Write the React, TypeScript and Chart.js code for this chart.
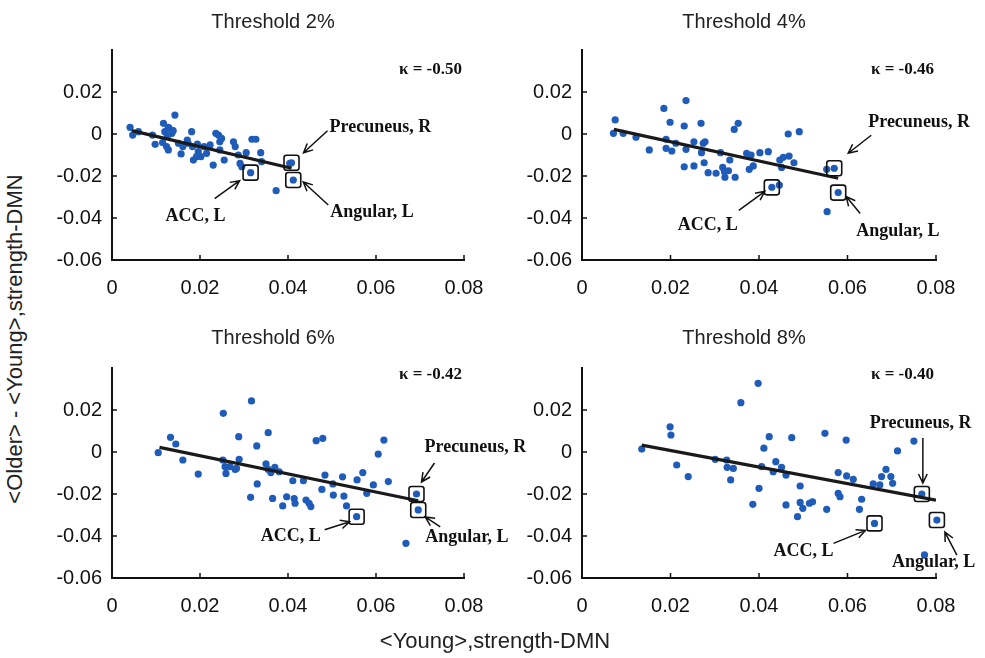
import React, { useEffect, useRef } from 'react';
import { Chart, registerables } from 'chart.js';

Chart.register(...registerables);

// ---------- data ----------
const X_TICKS = [0, 0.02, 0.04, 0.06, 0.08];
const Y_TICKS = [-0.06, -0.04, -0.02, 0, 0.02];
const PANEL_TITLES = ['Threshold 2%', 'Threshold 4%', 'Threshold 6%', 'Threshold 8%'];
const KAPPA_LABELS = ['κ = -0.50', 'κ = -0.46', 'κ = -0.42', 'κ = -0.40'];
const X_TITLE = '<Young>,strength-DMN';
const Y_TITLE = '<Older> - <Young>,strength-DMN';
const ROI_NAMES = ['Precuneus, R', 'ACC, L', 'Angular, L'];

const T2_X = [0.0041, 0.0047, 0.0060, 0.0092, 0.0098, 0.0117, 0.0120, 0.0126, 0.0130, 0.0136, 0.0143, 0.0139, 0.0115, 0.0124, 0.0128, 0.0151, 0.0157, 0.0161, 0.0171, 0.0181, 0.0183, 0.0185, 0.0194, 0.0196, 0.0202, 0.0209, 0.0215, 0.0223, 0.0230, 0.0236, 0.0242, 0.0245, 0.0245, 0.0255, 0.0276, 0.0280, 0.0287, 0.0291, 0.0295, 0.0305, 0.0318, 0.0327, 0.0338, 0.0340, 0.0373, 0.0128, 0.0173, 0.0249, 0.0192, 0.0404];
const T2_Y = [0.0032, -0.0005, 0.0011, -0.0005, -0.0049, 0.0051, 0.0011, -0.0010, 0.0027, 0.0003, 0.0090, 0.0016, -0.0041, -0.0060, -0.0076, -0.0044, -0.0095, -0.0060, -0.0029, 0.0011, -0.0060, -0.0124, -0.0048, -0.0084, -0.0108, -0.0060, -0.0092, -0.0052, -0.0148, 0.0003, -0.0005, -0.0037, -0.0076, -0.0124, -0.0037, -0.0060, -0.0100, -0.0140, -0.0156, -0.0089, -0.0025, -0.0025, -0.0089, -0.0132, -0.0270, 0.0032, -0.0044, -0.0021, -0.0108, -0.0140];
const T2_ROI_X = [0.0408, 0.0315, 0.0412];
const T2_ROI_Y = [-0.0137, -0.0184, -0.0219];
const T2_FIT_X = [0.0045, 0.0408];
const T2_FIT_Y = [0.0016, -0.0163];

const T4_X = [0.0075, 0.0071, 0.0093, 0.0122, 0.0152, 0.0185, 0.0190, 0.0190, 0.0199, 0.0203, 0.0212, 0.0231, 0.0235, 0.0235, 0.0231, 0.0253, 0.0253, 0.0269, 0.0274, 0.0270, 0.0278, 0.0276, 0.0285, 0.0303, 0.0313, 0.0318, 0.0322, 0.0323, 0.0331, 0.0334, 0.0346, 0.0344, 0.0353, 0.0372, 0.0378, 0.0387, 0.0382, 0.0402, 0.0421, 0.0446, 0.0447, 0.0455, 0.0451, 0.0466, 0.0468, 0.0479, 0.0491, 0.0553, 0.0554];
const T4_Y = [0.0067, 0.0003, 0.0003, -0.0016, -0.0076, 0.0122, -0.0025, -0.0068, 0.0056, -0.0081, -0.0044, 0.0038, 0.0159, -0.0073, -0.0156, -0.0152, -0.0037, 0.0051, -0.0044, -0.0089, -0.0037, -0.0137, -0.0184, -0.0187, -0.0089, -0.0159, -0.0180, -0.0206, -0.0175, -0.0124, -0.0206, 0.0022, 0.0051, -0.0092, -0.0168, -0.0152, -0.0100, -0.0089, -0.0084, -0.0243, -0.0124, -0.0111, -0.0159, 0.0000, -0.0105, -0.0137, 0.0011, -0.0168, -0.0370];
const T4_ROI_X = [0.0570, 0.0429, 0.0579];
const T4_ROI_Y = [-0.0163, -0.0254, -0.0279];
const T4_FIT_X = [0.0072, 0.0579];
const T4_FIT_Y = [0.0022, -0.0211];

const T6_X = [0.0105, 0.0133, 0.0145, 0.0161, 0.0196, 0.0253, 0.0317, 0.0252, 0.0257, 0.0259, 0.0268, 0.0280, 0.0283, 0.0289, 0.0288, 0.0315, 0.0329, 0.0330, 0.0350, 0.0355, 0.0355, 0.0361, 0.0365, 0.0370, 0.0380, 0.0388, 0.0397, 0.0411, 0.0414, 0.0416, 0.0435, 0.0441, 0.0448, 0.0452, 0.0464, 0.0479, 0.0477, 0.0484, 0.0502, 0.0503, 0.0524, 0.0527, 0.0533, 0.0557, 0.0570, 0.0579, 0.0594, 0.0605, 0.0618, 0.0628, 0.0668];
const T6_Y = [-0.0003, 0.0070, 0.0038, -0.0038, -0.0105, 0.0184, 0.0243, -0.0038, -0.0070, -0.0102, -0.0070, -0.0083, -0.0078, -0.0035, 0.0073, -0.0216, 0.0029, -0.0152, -0.0057, 0.0092, -0.0083, -0.0098, -0.0221, -0.0073, -0.0094, -0.0257, -0.0213, -0.0137, -0.0222, -0.0244, -0.0137, -0.0229, -0.0244, -0.0260, 0.0054, 0.0065, -0.0178, -0.0110, -0.0152, -0.0205, -0.0118, -0.0210, -0.0257, -0.0133, -0.0098, -0.0197, -0.0157, -0.0010, 0.0057, -0.0141, -0.0435];
const T6_ROI_X = [0.0692, 0.0556, 0.0696];
const T6_ROI_Y = [-0.0200, -0.0308, -0.0276];
const T6_FIT_X = [0.0108, 0.0696];
const T6_FIT_Y = [0.0022, -0.0232];

const T8_X = [0.0135, 0.0199, 0.0201, 0.0214, 0.0240, 0.0301, 0.0327, 0.0328, 0.0336, 0.0342, 0.0359, 0.0398, 0.0386, 0.0400, 0.0411, 0.0406, 0.0423, 0.0432, 0.0438, 0.0451, 0.0461, 0.0461, 0.0474, 0.0487, 0.0493, 0.0493, 0.0499, 0.0514, 0.0521, 0.0549, 0.0553, 0.0579, 0.0579, 0.0583, 0.0597, 0.0598, 0.0613, 0.0627, 0.0632, 0.0658, 0.0673, 0.0677, 0.0687, 0.0698, 0.0702, 0.0713, 0.0750, 0.0774];
const T8_Y = [0.0014, 0.0120, 0.0081, -0.0062, -0.0117, -0.0035, -0.0038, -0.0073, -0.0133, -0.0078, 0.0235, 0.0327, -0.0249, -0.0173, 0.0018, -0.0070, 0.0073, -0.0094, -0.0046, -0.0073, -0.0110, -0.0252, 0.0068, -0.0308, -0.0162, -0.0240, -0.0268, -0.0244, -0.0237, 0.0089, -0.0273, -0.0098, -0.0197, -0.0213, 0.0057, -0.0114, -0.0130, -0.0273, -0.0225, -0.0152, -0.0157, -0.0117, -0.0083, -0.0117, -0.0149, 0.0005, 0.0052, -0.0490];
const T8_ROI_X = [0.0768, 0.0661, 0.0802];
const T8_ROI_Y = [-0.0200, -0.0340, -0.0324];
const T8_FIT_X = [0.0135, 0.0800];
const T8_FIT_Y = [0.0033, -0.0229];

const PANELS = [
  { xs: T2_X, ys: T2_Y, roiX: T2_ROI_X, roiY: T2_ROI_Y, fitX: T2_FIT_X, fitY: T2_FIT_Y },
  { xs: T4_X, ys: T4_Y, roiX: T4_ROI_X, roiY: T4_ROI_Y, fitX: T4_FIT_X, fitY: T4_FIT_Y },
  { xs: T6_X, ys: T6_Y, roiX: T6_ROI_X, roiY: T6_ROI_Y, fitX: T6_FIT_X, fitY: T6_FIT_Y },
  { xs: T8_X, ys: T8_Y, roiX: T8_ROI_X, roiY: T8_ROI_Y, fitX: T8_FIT_X, fitY: T8_FIT_Y },
];

// ---------- layout / style (pixels) ----------
const LAYOUT = [
  { left: 40, top: 0, w: 500, h: 310, padTop: 50, padRight: 76, yw: 72, xh: 50, titleDy: -28, kappaDy: 20 },
  { left: 510, top: 0, w: 475, h: 310, padTop: 50, padRight: 49, yw: 72, xh: 50, titleDy: -28, kappaDy: 20 },
  { left: 40, top: 310, w: 500, h: 330, padTop: 58, padRight: 76, yw: 72, xh: 62, titleDy: -30, kappaDy: 7 },
  { left: 510, top: 310, w: 475, h: 330, padTop: 58, padRight: 49, yw: 72, xh: 62, titleDy: -30, kappaDy: 7 },
];

// per ROI: [headDx, headDy, tailDx, tailDy, textDx, textDy, align]
type Ann = [number, number, number, number, number, number, CanvasTextAlign];
const ANNOTATIONS: Ann[][] = [
  [[12, -10, 36, -32, 38, -35, 'left'], [-11, 8, -36, 26, -55, 44, 'center'], [10, 2, 35, 25, 37, 32, 'left']],
  [[14, -15, 37, -33, 34, -46, 'left'], [-7, 4, -33, 23, -64, 38, 'center'], [8, 4, 22, 21, 18, 39, 'left']],
  [[5, -12, 18, -31, 8, -47, 'left'], [-7, 5, -32, 13, -66, 20, 'center'], [7, 7, 22, 17, 7, 27, 'left']],
  [[1, -11, 1, -56, -52, -71, 'left'], [-9, 7, -41, 20, -71, 28, 'center'], [8, 12, 20, 35, -45, 42, 'left']],
];

const DOT = '#1f5bb8';
const SANS = '"Liberation Sans", Arial, Helvetica, sans-serif';
const SERIF = '"Liberation Serif", "Times New Roman", serif';

function fmtX(v: number): string {
  const r = Math.round(v * 100) / 100;
  if (r === 0) return '0';
  return String(r);
}

function fmtY(v: number): string {
  if (v > 0.035) return '';
  return fmtX(v);
}

function drawArrow(ctx: CanvasRenderingContext2D, x1: number, y1: number, x2: number, y2: number) {
  ctx.beginPath();
  ctx.moveTo(x1, y1);
  ctx.lineTo(x2, y2);
  const a = Math.atan2(y2 - y1, x2 - x1);
  const L = 10;
  const s = 0.45;
  ctx.moveTo(x2 - L * Math.cos(a - s), y2 - L * Math.sin(a - s));
  ctx.lineTo(x2, y2);
  ctx.lineTo(x2 - L * Math.cos(a + s), y2 - L * Math.sin(a + s));
  ctx.stroke();
}

function makePlugin(i: number) {
  const lay = LAYOUT[i];
  const pan = PANELS[i];
  return {
    id: 'panelDecor' + i,
    afterDatasetsDraw(chart: any) {
      const { ctx, chartArea, scales } = chart;
      const xs = scales.x;
      const ys = scales.y;
      ctx.save();
      // inward tick marks
      ctx.strokeStyle = '#111';
      ctx.lineWidth = 1.5;
      ctx.beginPath();
      X_TICKS.forEach((v) => {
        const px = xs.getPixelForValue(v);
        ctx.moveTo(px, chartArea.bottom);
        ctx.lineTo(px, chartArea.bottom - 5);
      });
      Y_TICKS.forEach((v) => {
        const py = ys.getPixelForValue(v);
        ctx.moveTo(chartArea.left, py);
        ctx.lineTo(chartArea.left + 5, py);
      });
      ctx.stroke();

      // title
      ctx.fillStyle = '#222';
      ctx.font = '20px ' + SANS;
      ctx.textAlign = 'center';
      ctx.textBaseline = 'middle';
      ctx.fillText(PANEL_TITLES[i], (chartArea.left + chartArea.right) / 2 - 15, chartArea.top + lay.titleDy);

      // kappa
      ctx.fillStyle = '#111';
      ctx.font = 'bold 17px ' + SERIF;
      ctx.textAlign = 'right';
      ctx.fillText(KAPPA_LABELS[i], chartArea.right - 2, chartArea.top + lay.kappaDy);

      // ROI boxes, arrows, labels
      ROI_NAMES.forEach((name, k) => {
        const px = xs.getPixelForValue(pan.roiX[k]);
        const py = ys.getPixelForValue(pan.roiY[k]);
        const a = ANNOTATIONS[i][k];
        ctx.strokeStyle = '#111';
        ctx.lineWidth = 1.6;
        ctx.beginPath();
        (ctx as any).roundRect(px - 7.5, py - 7.5, 15, 15, 2.5);
        ctx.stroke();
        ctx.lineWidth = 1.5;
        drawArrow(ctx, px + a[2], py + a[3], px + a[0], py + a[1]);
        ctx.font = 'bold 18px ' + SERIF;
        ctx.textAlign = a[6];
        ctx.textBaseline = 'middle';
        ctx.fillStyle = '#111';
        ctx.fillText(name, px + a[4], py + a[5]);
      });
      ctx.restore();
    },
  };
}

export default function App() {
  const refs = useRef<(HTMLCanvasElement | null)[]>([]);

  useEffect(() => {
    const charts: Chart[] = [];
    PANELS.forEach((pan, i) => {
      const canvas = refs.current[i];
      if (!canvas) return;
      const lay = LAYOUT[i];
      const points = pan.xs.map((x, j) => ({ x, y: pan.ys[j] }));
      const roiPts = pan.roiX.map((x, j) => ({ x, y: pan.roiY[j] }));
      const fit = pan.fitX.map((x, j) => ({ x, y: pan.fitY[j] }));
      const chart = new Chart(canvas, {
        type: 'scatter',
        data: {
          datasets: [
            {
              type: 'line',
              data: fit,
              borderColor: '#1a1a1a',
              borderWidth: 3.2,
              pointRadius: 0,
              fill: false,
              order: 0,
            } as any,
            {
              data: [...points, ...roiPts],
              backgroundColor: DOT,
              borderColor: DOT,
              borderWidth: 0,
              pointRadius: 3.6,
              clip: false,
              order: 1,
            } as any,
          ],
        },
        options: {
          responsive: false,
          animation: false,
          events: [],
          layout: { padding: { top: lay.padTop, right: lay.padRight, left: 0, bottom: 0 } },
          plugins: { legend: { display: false }, tooltip: { enabled: false }, title: { display: false } },
          scales: {
            x: {
              type: 'linear',
              min: 0,
              max: 0.08,
              afterFit: (s: any) => {
                s.height = lay.xh;
                s.paddingLeft = 0;
                s.paddingRight = 0;
              },
              afterBuildTicks: (s: any) => {
                s.ticks = X_TICKS.map((v) => ({ value: v }));
              },
              grid: { display: false, drawTicks: false },
              border: { display: true, color: '#111', width: 2 },
              ticks: {
                padding: 16,
                color: '#111',
                font: { family: SANS, size: 20 },
                callback: (v: any) => fmtX(Number(v)),
                maxRotation: 0,
                autoSkip: false,
              },
            },
            y: {
              type: 'linear',
              min: -0.06,
              max: 0.04,
              afterFit: (s: any) => {
                s.width = lay.yw;
                s.paddingTop = 0;
                s.paddingBottom = 0;
              },
              afterBuildTicks: (s: any) => {
                s.ticks = [...Y_TICKS, 0.04].map((v) => ({ value: v }));
              },
              grid: { display: false, drawTicks: false },
              border: { display: true, color: '#111', width: 2 },
              ticks: {
                padding: 10,
                color: '#111',
                font: { family: SANS, size: 20 },
                callback: (v: any) => fmtY(Number(v)),
                autoSkip: false,
              },
            },
          },
        },
        plugins: [makePlugin(i)],
      } as any);
      charts.push(chart);
    });
    return () => charts.forEach((c) => c.destroy());
  }, []);

  return (
    <div style={{ position: 'absolute', left: 0, top: 0, width: 985, height: 658, background: '#fff', overflow: 'hidden' }}>
      {LAYOUT.map((lay, i) => (
        <canvas
          key={i}
          ref={(el) => { refs.current[i] = el; }}
          width={lay.w}
          height={lay.h}
          style={{ position: 'absolute', left: lay.left, top: lay.top, width: lay.w, height: lay.h }}
        />
      ))}
      <div
        style={{
          position: 'absolute', left: 495, top: 641, transform: 'translate(-50%, -50%)',
          fontFamily: SANS, fontSize: 22, color: '#222', whiteSpace: 'nowrap',
        }}
      >
        {X_TITLE}
      </div>
      <div
        style={{
          position: 'absolute', left: 15, top: 339, transform: 'translate(-50%, -50%) rotate(-90deg)',
          fontFamily: SANS, fontSize: 22, color: '#222', whiteSpace: 'nowrap',
        }}
      >
        {Y_TITLE}
      </div>
    </div>
  );
}
